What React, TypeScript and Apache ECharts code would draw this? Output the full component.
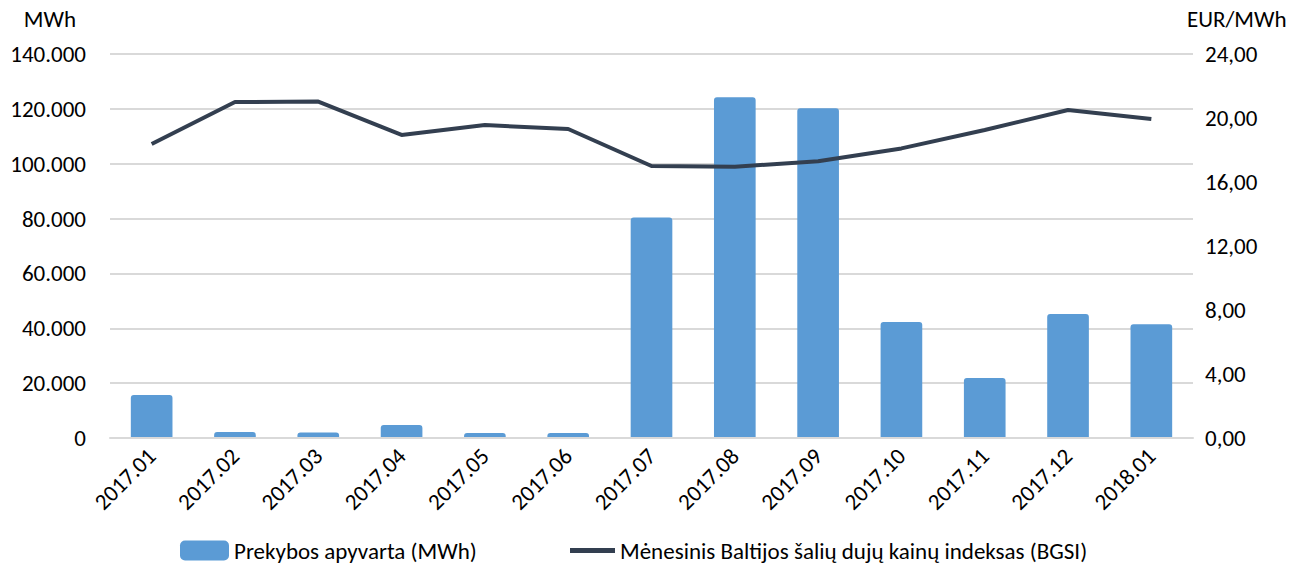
import React, { useEffect, useRef } from "react";
import * as echarts from "echarts";

const categories = ["2017.01","2017.02","2017.03","2017.04","2017.05","2017.06","2017.07","2017.08","2017.09","2017.10","2017.11","2017.12","2018.01"];
const turnover = [15700, 2200, 2000, 4700, 1800, 1800, 80400, 124200, 120200, 42300, 21900, 45200, 41500];
const bgsi = [18.38, 21.0, 21.03, 18.94, 19.56, 19.31, 17.0, 16.95, 17.3, 18.1, 19.25, 20.5, 19.94];

const FONT = "Carlito, Lato, 'Liberation Sans', sans-serif";
const FS = 23;

export default function App() {
  const ref = useRef<HTMLDivElement>(null);
  useEffect(() => {
    document.body.style.margin = "0";
    const chart = echarts.init(ref.current!, undefined, { renderer: "svg" });
    const lbl = { fontSize: FS, color: "#000", fontFamily: FONT };
    chart.setOption({
      animation: false,
      textStyle: { fontFamily: FONT, color: "#000" },
      grid: { left: 110, right: 112, top: 54, bottom: 132, outerBoundsMode: "none", containLabel: false },
      legend: [
        {
          left: 175,
          top: 534,
          itemWidth: 49,
          itemHeight: 20,
          textStyle: lbl,
          data: [{ name: "Prekybos apyvarta (MWh)", icon: "roundRect" }],
        },
        {
          left: 565,
          top: 534,
          itemWidth: 45,
          itemHeight: 5,
          textStyle: lbl,
          data: [{ name: "Mėnesinis Baltijos šalių dujų kainų indeksas (BGSI)", icon: "rect" }],
        },
      ],
      xAxis: {
        type: "category",
        data: categories,
        z: 5,
        axisLine: { show: true, lineStyle: { color: "#d9d9d9", width: 2 } },
        axisTick: { show: false },
        axisLabel: { rotate: 45, ...lbl, margin: 14 },
      },
      yAxis: [
        {
          type: "value",
          min: 0,
          max: 140000,
          interval: 20000,
          name: "MWh",
          nameLocation: "end",
          nameGap: 24,
          nameTextStyle: { ...lbl, align: "right", padding: [0, 34, 0, 0] },
          axisLine: { show: false },
          axisTick: { show: false },
          splitLine: { lineStyle: { color: "#d9d9d9", width: 2 } },
          axisLabel: {
            ...lbl,
            margin: 24,
            formatter: (v: number) => v === 0 ? "0" : v.toLocaleString("en-US").replace(/,/g, "."),
          },
        },
        {
          type: "value",
          min: 0,
          max: 24,
          interval: 4,
          name: "EUR/MWh",
          nameLocation: "end",
          nameGap: 24,
          nameTextStyle: { ...lbl, align: "left", padding: [0, 0, 0, -6] },
          axisLine: { show: false },
          axisTick: { show: false },
          splitLine: { show: false },
          axisLabel: {
            ...lbl,
            margin: 12,
            formatter: (v: number) => v.toFixed(2).replace(".", ","),
          },
        },
      ],
      series: [
        {
          name: "Prekybos apyvarta (MWh)",
          type: "bar",
          data: turnover,
          barWidth: "50%",
          itemStyle: { color: "#5b9bd5", borderRadius: [3, 3, 0, 0] },
        },
        {
          name: "Mėnesinis Baltijos šalių dujų kainų indeksas (BGSI)",
          type: "line",
          yAxisIndex: 1,
          data: bgsi,
          showSymbol: false,
          symbol: "none",
          lineStyle: { color: "#333f50", width: 4 },
          itemStyle: { color: "#333f50" },
          z: 6,
        },
      ],
    });
    return () => chart.dispose();
  }, []);
  return <div ref={ref} style={{ width: 1305, height: 570 }} />;
}
